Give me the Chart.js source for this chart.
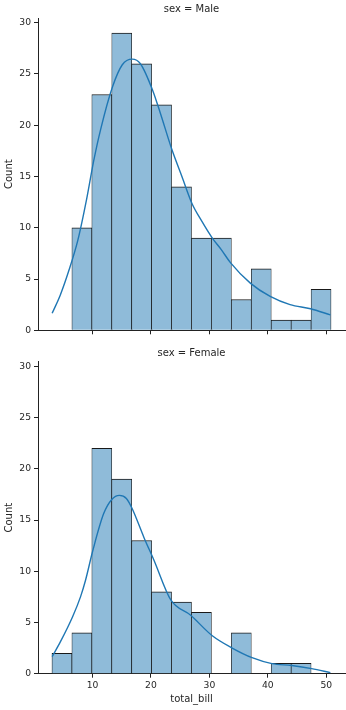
<!DOCTYPE html>
<html>
<head>
<meta charset="utf-8">
<script src="https://cdn.jsdelivr.net/npm/chart.js@4"></script>
<style>
	body { margin: 0; background: #fff; }
	canvas { position: absolute; left: 0; }
</style>
</head>
<body>
<canvas id="chart-male" width="346" height="343" style="top:0"></canvas>
<canvas id="chart-female" width="346" height="367" style="top:343px"></canvas>
<script>
	// bins of total_bill (edges) and counts per facet
	var binEdges = [3.07, 6.48, 9.89, 13.30, 16.71, 20.12, 23.53, 26.94, 30.35, 33.76, 37.17, 40.58, 43.99, 47.40, 50.81];
	var maleCounts = [0, 10, 23, 29, 26, 22, 14, 9, 9, 3, 6, 1, 1, 4];
	var femaleCounts = [2, 4, 22, 19, 13, 8, 7, 6, 0, 4, 0, 1, 1, 0];

	// kde curves
	var maleKdeX = [3.1, 4.5, 6.0, 7.5, 9.0, 10.2, 11.4, 13.4, 15.1, 16.8, 18.2, 20.3, 21.6, 23.6, 25.3, 27.0, 28.75, 30.5, 32.0, 33.6, 37.0, 40.4, 43.8, 47.3, 50.7];
	var maleKdeY = [1.66, 3.45, 5.9, 8.8, 12.8, 16.5, 19.6, 23.7, 25.9, 26.45, 26.0, 23.4, 21.2, 17.6, 15.0, 12.4, 10.6, 9.0, 7.9, 6.6, 4.6, 3.3, 2.5, 2.1, 1.5];
	var femaleKdeX = [3.1, 4.5, 6.6, 7.95, 8.8, 10.05, 11.9, 13.3, 14.6, 15.8, 16.8, 18.8, 20.5, 23.4, 26.8, 30.5, 33.9, 37.3, 40.7, 44.1, 47.5, 50.7];
	var femaleKdeY = [1.66, 3.1, 5.56, 7.5, 9.1, 12.0, 15.6, 17.0, 17.4, 17.1, 16.1, 13.3, 11.1, 7.2, 5.7, 3.7, 2.5, 1.56, 0.98, 0.8, 0.5, 0.1];

	var xTicks = [10, 20, 30, 40, 50];
	var yTicks = [0, 5, 10, 15, 20, 25, 30];
	var xMin = 0.68, xMax = 53.2, yMax = 30.45;

	var FONT = 'DejaVu Sans';
	var TEXT = '#262626';
	var AXIS = '#222';

	var facetTitle = {
		id: 'facetTitle',
		afterDraw: function(chart, args, opts) {
			var ctx = chart.ctx, area = chart.chartArea;
			ctx.save();
			ctx.font = '10px "' + FONT + '"';
			ctx.fillStyle = TEXT;
			ctx.textAlign = 'center';
			ctx.textBaseline = 'alphabetic';
			ctx.fillText(opts.text, (area.left + area.right) / 2, opts.y);
			ctx.restore();
		}
	};

	function makeChart(id, title, counts, kdeX, kdeY, bottomAxis) {
		let bars = [];
		counts.map((c, i) => {
			bars.push({ x: (binEdges[i] + binEdges[i + 1]) / 2, y: c === 0 ? null : c });
		});
		let kde = [];
		kdeX.map((x, i) => {
			kde.push({ x: x, y: kdeY[i] });
		});

		var config = {
			type: 'bar',
			data: {
				datasets: [{
					type: 'line',
					data: kde,
					borderColor: '#1f77b4',
					borderWidth: 1.4,
					pointRadius: 0,
					cubicInterpolationMode: 'monotone',
					fill: false,
					order: 0
				}, {
					type: 'bar',
					data: bars,
					backgroundColor: 'rgb(143,187,217)',
					borderColor: 'rgba(0,0,0,0.9)',
					borderWidth: { top: 1, left: 0.7, right: 0.7, bottom: 0 },
					barPercentage: 1,
					categoryPercentage: 1,
					order: 1
				}]
			},
			plugins: [facetTitle],
			options: {
				responsive: false,
				animation: false,
				layout: {
					padding: { left: 0, right: 1, top: bottomAxis ? 18.7 : 18.1, bottom: 0 }
				},
				plugins: {
					legend: { display: false },
					tooltip: { enabled: false },
					facetTitle: { text: title, y: bottomAxis ? 13 : 12 }
				},
				scales: {
					x: {
						type: 'linear',
						min: xMin,
						max: xMax,
						offset: false,
						grid: { offset: false, drawOnChartArea: false, color: AXIS, tickLength: 4, lineWidth: 1 },
						border: { color: AXIS, width: 1 },
						ticks: {
							display: bottomAxis,
							color: TEXT,
							padding: 2,
							font: { family: FONT, size: 9.2 }
						},
						title: {
							display: bottomAxis,
							text: 'total_bill',
							color: TEXT,
							font: { family: FONT, size: 10 },
							padding: { top: 0, bottom: 4.5 }
						},
						afterBuildTicks: function(s) {
							s.ticks = xTicks.map(v => ({ value: v }));
						},
						afterFit: function(s) {
							s.height = bottomAxis ? 36.3 : 12.7;
							s.paddingLeft = 0;
							s.paddingRight = 0;
						}
					},
					y: {
						min: 0,
						max: yMax,
						grid: { drawOnChartArea: false, color: AXIS, tickLength: 4, lineWidth: 1 },
						border: { color: AXIS, width: 1 },
						ticks: {
							color: TEXT,
							padding: 3,
							font: { family: FONT, size: 9.2 }
						},
						title: {
							display: true,
							text: 'Count',
							color: TEXT,
							font: { family: FONT, size: 10 },
							padding: { top: 3.5, bottom: 0 }
						},
						afterBuildTicks: function(s) {
							s.ticks = yTicks.map(v => ({ value: v }));
						},
						afterFit: function(s) {
							s.width = 38;
							s.paddingTop = 0;
							s.paddingBottom = 0;
						}
					}
				}
			}
		};

		var ctx = document.getElementById(id).getContext('2d');
		return new Chart(ctx, config);
	}

	window.chartMale = makeChart('chart-male', 'sex = Male', maleCounts, maleKdeX, maleKdeY, false);
	window.chartFemale = makeChart('chart-female', 'sex = Female', femaleCounts, femaleKdeX, femaleKdeY, true);
</script>
</body>
</html>
